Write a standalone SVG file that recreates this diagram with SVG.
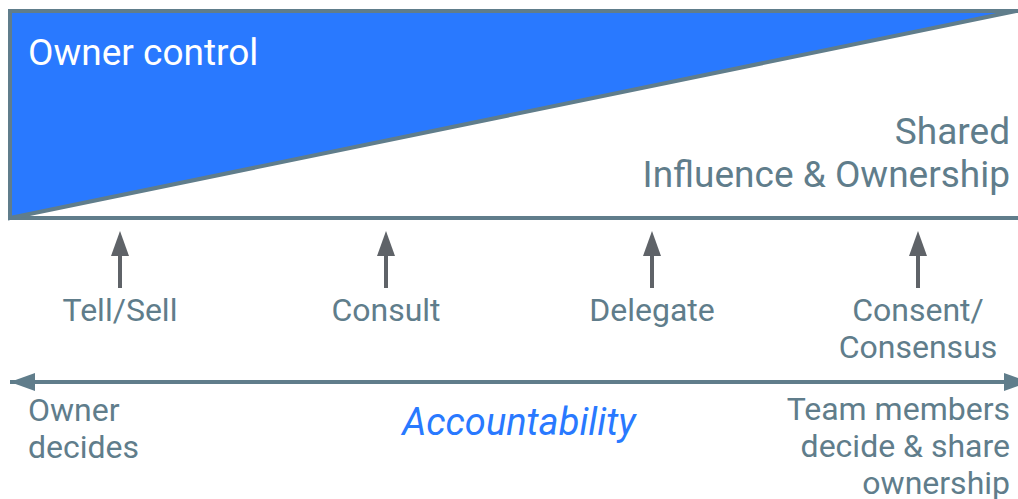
<svg xmlns="http://www.w3.org/2000/svg" width="1018" height="499" viewBox="0 0 1018 499">
<style>
text{font-family:Roboto,"Liberation Sans",sans-serif}
.lbl{fill:#607D8B;font-size:32px}
.big{fill:#607D8B;font-size:37px}
.up{stroke:#5F6368;stroke-width:4;fill:none}
</style>
<defs>
<marker id="hHead" viewBox="0 0 25 18" refX="25" refY="9" markerWidth="25" markerHeight="18" markerUnits="userSpaceOnUse" orient="auto-start-reverse">
<path d="M0,0 L25,9 L0,18 Z" fill="#607D8B"/>
</marker>
</defs>
<g id="frame">
<path d="M10,218 L10,11 L1030,11" fill="none" stroke="#607D8B" stroke-width="4"/>
<line x1="10" y1="218" x2="1030" y2="218" stroke="#607D8B" stroke-width="4"/>
</g>
<g id="owner-control">
<path d="M10,11 L1016,11 L10,218 Z" fill="#2979FF" stroke="#607D8B" stroke-width="4" stroke-linejoin="miter"/>
<text x="28" y="65" fill="#FFFFFF" font-size="37">Owner control</text>
</g>
<g id="shared">
<text class="big" text-anchor="end" x="1010" y="144">Shared</text>
<text class="big" text-anchor="end" x="1010" y="187">Influence &amp; Ownership</text>
</g>
<g id="connectors">
<line class="up" x1="120" y1="288" x2="120" y2="256"/>
<path d="M111,256 L120,231 L129,256 Z" fill="#5F6368"/>
<line class="up" x1="386" y1="288" x2="386" y2="256"/>
<path d="M377,256 L386,231 L395,256 Z" fill="#5F6368"/>
<line class="up" x1="652" y1="288" x2="652" y2="256"/>
<path d="M643,256 L652,231 L661,256 Z" fill="#5F6368"/>
<line class="up" x1="918" y1="288" x2="918" y2="256"/>
<path d="M909,256 L918,231 L927,256 Z" fill="#5F6368"/>
<line x1="10" y1="382" x2="1029" y2="382" stroke="#607D8B" stroke-width="4" marker-start="url(#hHead)" marker-end="url(#hHead)"/>
</g>
<g id="tell-sell"><text class="lbl" text-anchor="middle" x="120" y="321">Tell/Sell</text></g>
<g id="consult"><text class="lbl" text-anchor="middle" x="386" y="321">Consult</text></g>
<g id="delegate"><text class="lbl" text-anchor="middle" x="652" y="321">Delegate</text></g>
<g id="consent"><text class="lbl" text-anchor="middle" x="918" y="321">Consent/</text><text class="lbl" text-anchor="middle" x="918" y="358">Consensus</text></g>
<g id="owner-decides"><text class="lbl" x="28" y="421">Owner</text><text class="lbl" x="28" y="458">decides</text></g>
<g id="accountability"><text x="519" y="435" text-anchor="middle" font-size="38" font-style="italic" fill="#2979FF">Accountability</text></g>
<g id="team"><text class="lbl" text-anchor="end" x="1010" y="420">Team members</text><text class="lbl" text-anchor="end" x="1010" y="457">decide &amp; share</text><text class="lbl" text-anchor="end" x="1010" y="494">ownership</text></g>
</svg>
